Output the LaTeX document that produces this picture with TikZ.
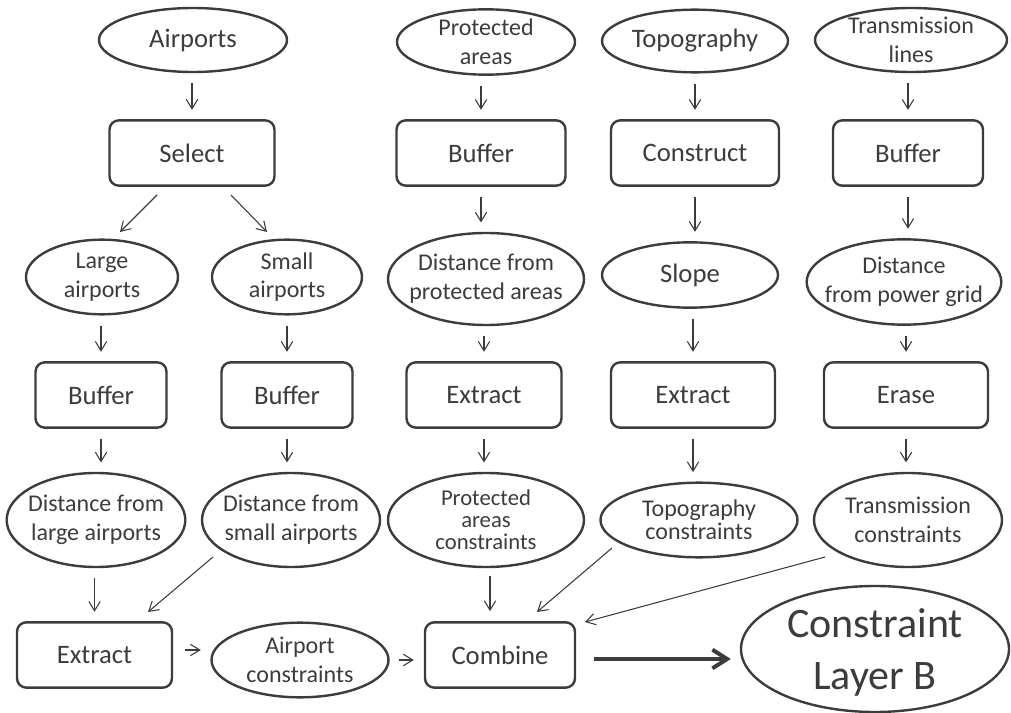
\documentclass[tikz,border=0pt]{standalone}
\usepackage{fontspec}
\setmainfont{Carlito}
\usetikzlibrary{shapes.geometric,arrows.meta}
\definecolor{ink}{HTML}{3C3C3C}
\tikzset{
  basic/.style  = {draw=ink, text=ink, line width=1.8pt, align=center},
  proc/.style   = {basic, rectangle, rounded corners=7pt, minimum height=49pt,
                   font=\fontsize{20}{24}\selectfont},
  data/.style   = {basic, ellipse, inner sep=-20pt,
                   font=\fontsize{18}{21.5}\selectfont},
  single/.style = {font=\fontsize{20}{24}\selectfont},
  link/.style   = {-{Straight Barb[length=7pt,width=8.5pt]}, draw=ink, line width=0.8pt},
  arr/.style    = {link, shorten <=7.5pt, shorten >=7pt},
  bold link/.style = {-{Straight Barb[length=11pt,width=14pt]}, draw=ink, line width=3pt}
}

\begin{document}
\begin{tikzpicture}[x=0.75pt, y=-0.75pt]
  \useasboundingbox (0,0) rectangle (1011,713);

  % input layers, first row
  \node[data, single, minimum width=141pt, minimum height=48pt] (airports) at (193,40) {Airports};
  \node[data, minimum width=133.5pt, minimum height=49pt] (prot) at (486,42) {Protected\\areas};
  \node[data, single, minimum width=139.5pt, minimum height=47pt] (topo) at (695,41) {Topography};
  \node[data, minimum width=144pt, minimum height=48pt] (trans) at (911,40) {Transmission\\lines};

  % second row, tools
  \node[proc, minimum width=123.75pt] (select) at (192,153) {Select};
  \node[proc, minimum width=126.75pt] (buf1) at (481,153) {Buffer};
  \node[proc, minimum width=126pt] (construct) at (695,153) {Construct};
  \node[proc, minimum width=112.5pt] (buf2) at (908,153) {Buffer};

  % third row
  \node[data, minimum width=114pt, minimum height=56pt] (large) at (102,277) {Large\\airports};
  \node[data, minimum width=112.5pt, minimum height=56pt] (small) at (287,277) {Small\\airports};
  \node[data, minimum width=147pt, minimum height=69pt] (distprot) at (486,279) {Distance from\\protected areas};
  \node[data, single, minimum width=132pt, minimum height=49pt] (slope) at (690,275) {Slope};
  \node[data, minimum width=146pt, minimum height=64pt] (distgrid) at (904,282) {Distance\\from power grid};

  % fourth row, tools
  \node[proc, minimum width=98.25pt] (buf3) at (101,395) {Buffer};
  \node[proc, minimum width=98.25pt] (buf4) at (287,395) {Buffer};
  \node[proc, minimum width=116.25pt] (extract1) at (484,395) {Extract};
  \node[proc, minimum width=123pt] (extract2) at (693,395) {Extract};
  \node[proc, minimum width=123pt] (erase) at (906,395) {Erase};

  % fifth row
  \node[data, minimum width=134pt, minimum height=70.5pt] (distlarge) at (96,520) {Distance from\\large airports};
  \node[data, minimum width=133.5pt, minimum height=70.5pt] (distsmall) at (291,520) {Distance from\\small airports};
  \node[data, minimum width=147pt, minimum height=70.5pt, font=\fontsize{17}{16.5}\selectfont]
    (protcons) at (486,520) {Protected\\areas\\constraints};
  \node[data, minimum width=147.75pt, minimum height=56pt, font=\fontsize{18}{17.5}\selectfont]
    (topocons) at (699,520) {Topography\\constraints};
  \node[data, minimum width=141pt, minimum height=70.5pt] (transcons) at (908,520) {Transmission\\constraints};

  % last row
  \node[proc, minimum width=116.25pt] (extract3) at (94.5,655) {Extract};
  \node[data, minimum width=132.75pt, minimum height=56pt] (aircons) at (300,660) {Airport\\constraints};
  \node[proc, minimum width=112.5pt] (combine) at (500,655) {Combine};
  \node[data, minimum width=201pt, minimum height=94.5pt, text depth=-10pt,
        font=\fontsize{31.5}{39}\selectfont]
    (layerb) at (875,649) {Constraint\\Layer B};

  % straight arrows into the boxes
  \foreach \a/\b in {airports/select, prot/buf1, topo/construct, trans/buf2,
                     large/buf3, small/buf4, distprot/extract1, slope/extract2,
                     distgrid/erase, distlarge/extract3}
    \draw[arr] (\b.north |- \a.south) -- (\b.north);

  % and out of them
  \foreach \a/\b in {buf1/distprot, construct/slope, buf2/distgrid, buf3/distlarge,
                     buf4/distsmall, extract1/protcons, extract2/topocons, erase/transcons}
    \draw[arr] (\a.south) -- (\a.south |- \b.north);

  % slanted ones
  \draw[link] ([shift={(-35,42)}]select.center) -- ([shift={(18,-45)}]large.center);
  \draw[link] ([shift={(39,42)}]select.center) -- ([shift={(-20,-45)}]small.center);
  \draw[link] ([shift={(-78,37)}]distsmall.center) -- ([shift={(53.5,-43)}]extract3.center);
  \draw[link] ([shift={(4,8)}]protcons.south) -- ([shift={(-10,-10)}]combine.north);
  \draw[link] ([shift={(-87,28)}]topocons.center) -- ([shift={(37,-43)}]combine.center);
  \draw[link] ([shift={(-83,37)}]transcons.center) -- ([shift={(85,-33)}]combine.center);

  % bottom line
  \draw[link] ([shift={(12,-5)}]extract3.east) -- ([shift={(-9.5,-10)}]aircons.west);
  \draw[link] ([shift={(9.5,0)}]aircons.east) -- ([shift={(-10,5)}]combine.west);
  \draw[bold link] ([shift={(18,4)}]combine.east) -- ([shift={(-9,10)}]layerb.west);
\end{tikzpicture}
\end{document}
